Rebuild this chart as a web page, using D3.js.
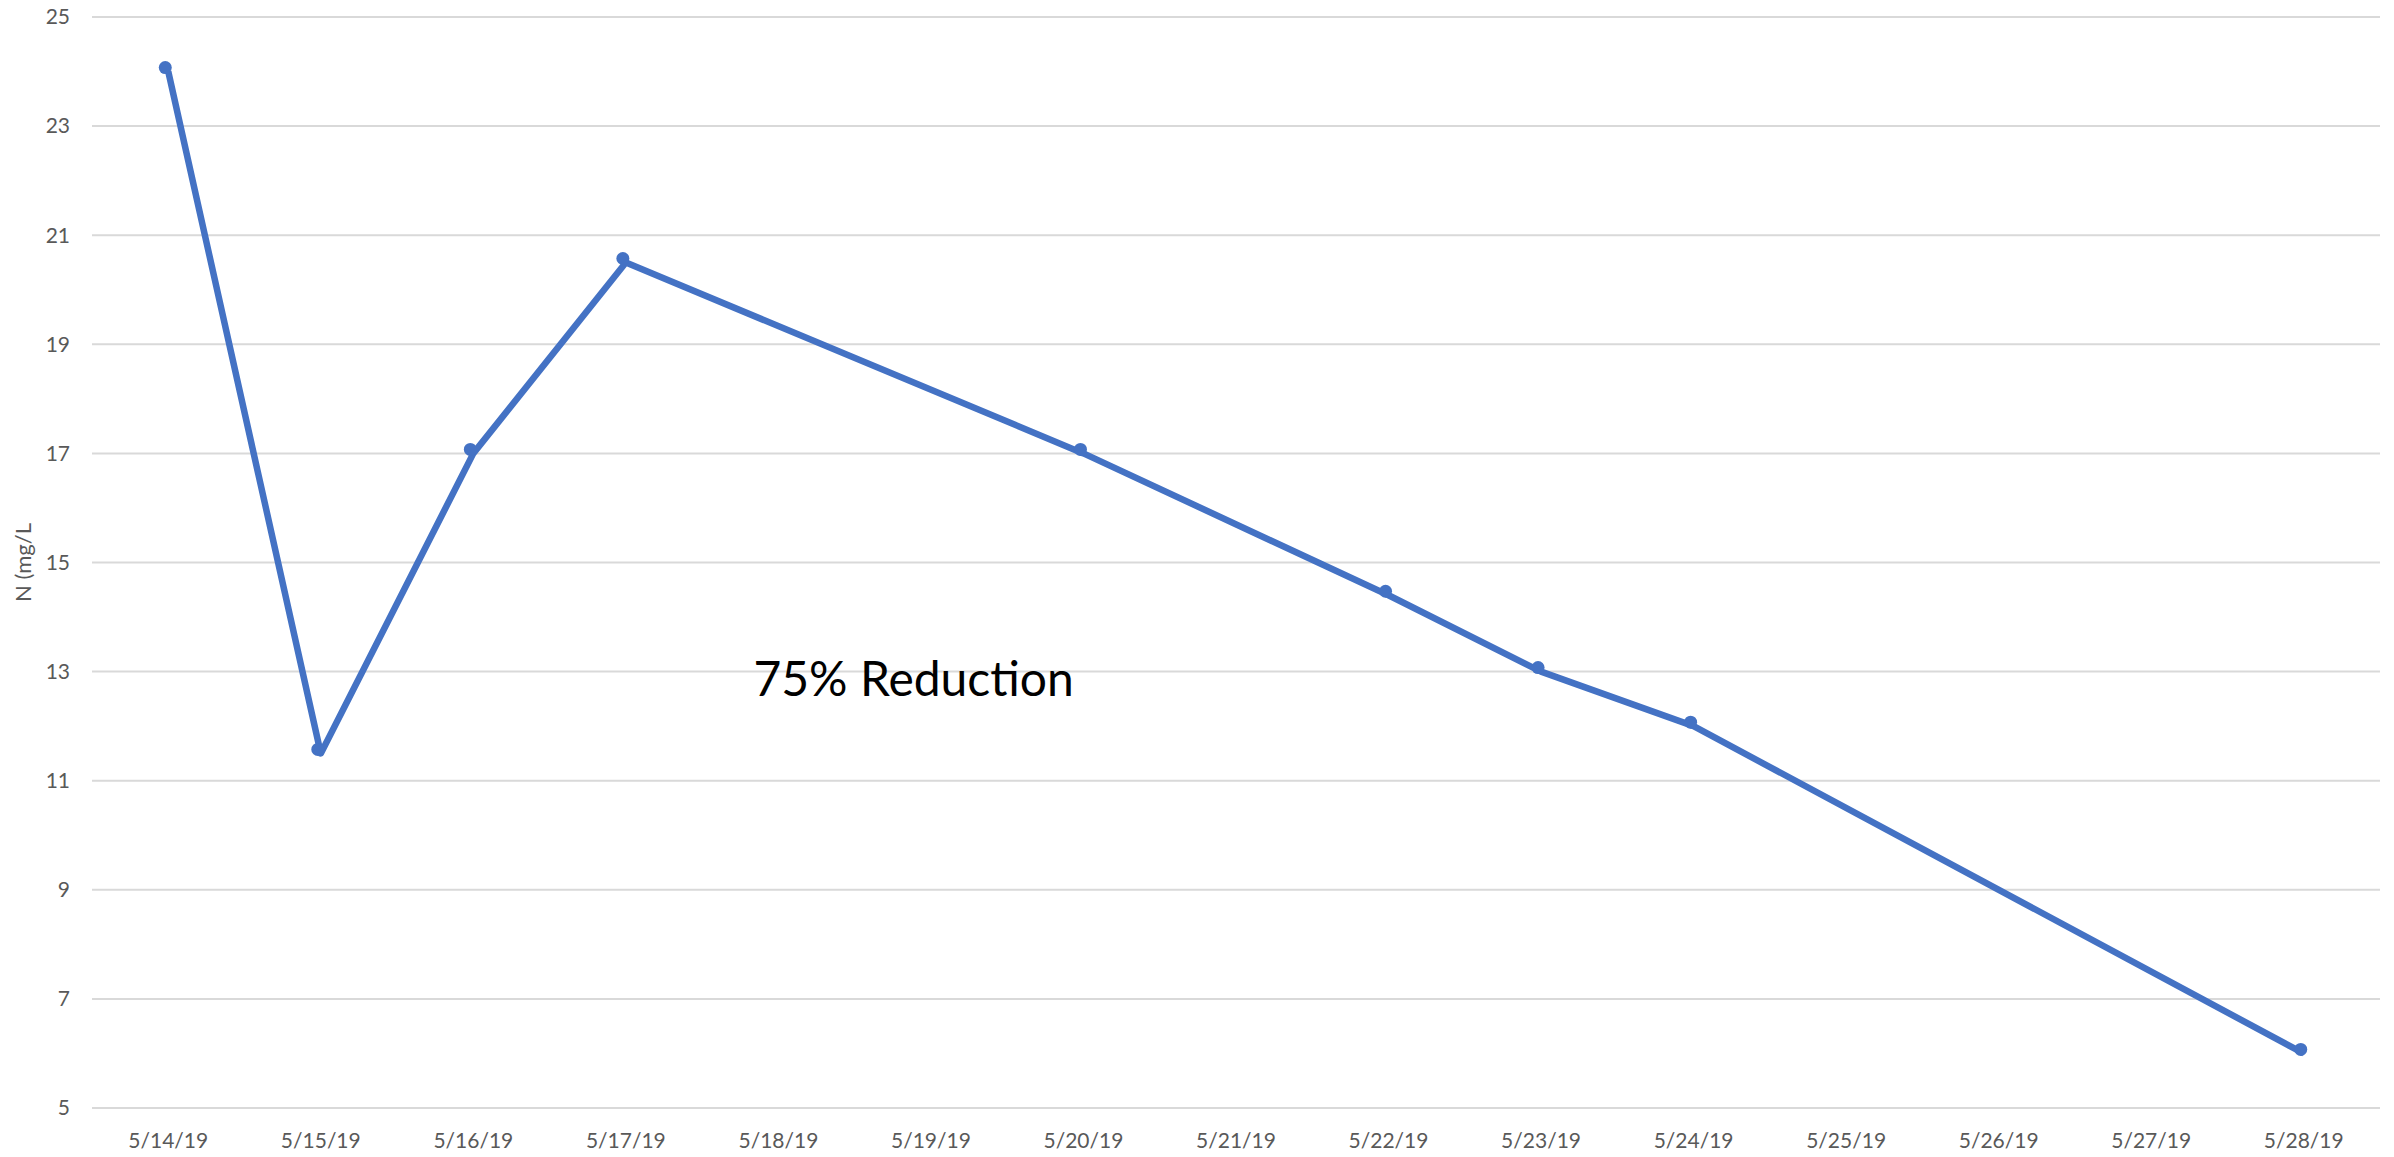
<!DOCTYPE html>
<html>
<head>
<meta charset="utf-8">
<script src="https://cdn.jsdelivr.net/npm/d3@7"></script>
<style>
  body { margin: 0; background: #fff; }
</style>
</head>
<body>
<div id="chart"></div>
<script>
const dates = ["5/14/19", "5/15/19", "5/16/19", "5/17/19", "5/18/19", "5/19/19", "5/20/19",
  "5/21/19", "5/22/19", "5/23/19", "5/24/19", "5/25/19", "5/26/19", "5/27/19", "5/28/19"];
const sampleDates = ["5/14/19", "5/15/19", "5/16/19", "5/17/19", "5/20/19", "5/22/19", "5/23/19", "5/24/19", "5/28/19"];
const nValues = [24.0, 11.5, 17.0, 20.5, 17.0, 14.4, 13.0, 12.0, 6.0];
const yTicks = [5, 7, 9, 11, 13, 15, 17, 19, 21, 23, 25];

function drawChart() {
  const width = 2394;
  const height = 1157;
  const margin = { top: 17, right: 14, bottom: 49, left: 92 };
  const lineColor = "#4472C4";
  const gridColor = "#D9D9D9";
  const labelColor = "#595959";
  const fontFamily = "Lato, 'Open Sans', sans-serif";

  const data = sampleDates.map((d, i) => ({ date: d, value: nValues[i] }));

  const svg = d3.select("#chart")
    .append("svg")
    .attr("width", width)
    .attr("height", height)
    .style("font-family", fontFamily);

  const x = d3.scalePoint()
    .domain(dates)
    .range([margin.left, width - margin.right])
    .padding(0.5);

  const y = d3.scaleLinear()
    .domain([5, 25])
    .range([height - margin.bottom, margin.top]);

  // Gridlines
  svg.append("g")
    .selectAll("line")
    .data(yTicks)
    .join("line")
    .attr("x1", margin.left)
    .attr("x2", width - margin.right)
    .attr("y1", d => y(d))
    .attr("y2", d => y(d))
    .attr("stroke", gridColor)
    .attr("stroke-width", 2);

  // Y tick labels
  svg.append("g")
    .selectAll("text")
    .data(yTicks)
    .join("text")
    .attr("x", margin.left - 22)
    .attr("y", d => y(d))
    .attr("dy", "0.35em")
    .attr("text-anchor", "end")
    .attr("font-size", 21)
    .attr("fill", labelColor)
    .text(d => d);

  // X tick labels
  svg.append("g")
    .selectAll("text")
    .data(dates)
    .join("text")
    .attr("x", d => x(d))
    .attr("y", height - 9)
    .attr("text-anchor", "middle")
    .attr("font-size", 21)
    .attr("fill", labelColor)
    .text(d => d);

  // Y axis title
  svg.append("text")
    .attr("transform", `translate(31,${(margin.top + height - margin.bottom) / 2}) rotate(-90)`)
    .attr("text-anchor", "middle")
    .attr("font-size", 22)
    .attr("fill", labelColor)
    .text("N (mg/L");

  // Line
  const line = d3.line()
    .x(d => x(d.date))
    .y(d => y(d.value));

  svg.append("path")
    .datum(data)
    .attr("fill", "none")
    .attr("stroke", lineColor)
    .attr("stroke-width", 6.5)
    .attr("stroke-linejoin", "round")
    .attr("d", line);

  // Markers (Excel draws them a touch up-left of the line)
  svg.append("g")
    .attr("transform", "translate(-3,-4)")
    .selectAll("circle")
    .data(data)
    .join("circle")
    .attr("cx", d => x(d.date))
    .attr("cy", d => y(d.value))
    .attr("r", 6.5)
    .attr("fill", lineColor);

  // Annotation
  svg.append("text")
    .attr("x", (x("5/18/19") + x("5/19/19")) / 2 + 59)
    .attr("y", y(12.55))
    .attr("text-anchor", "middle")
    .attr("font-size", 48)
    .attr("fill", "#000")
    .text("75% Reduction");
}

drawChart();
</script>
</body>
</html>
